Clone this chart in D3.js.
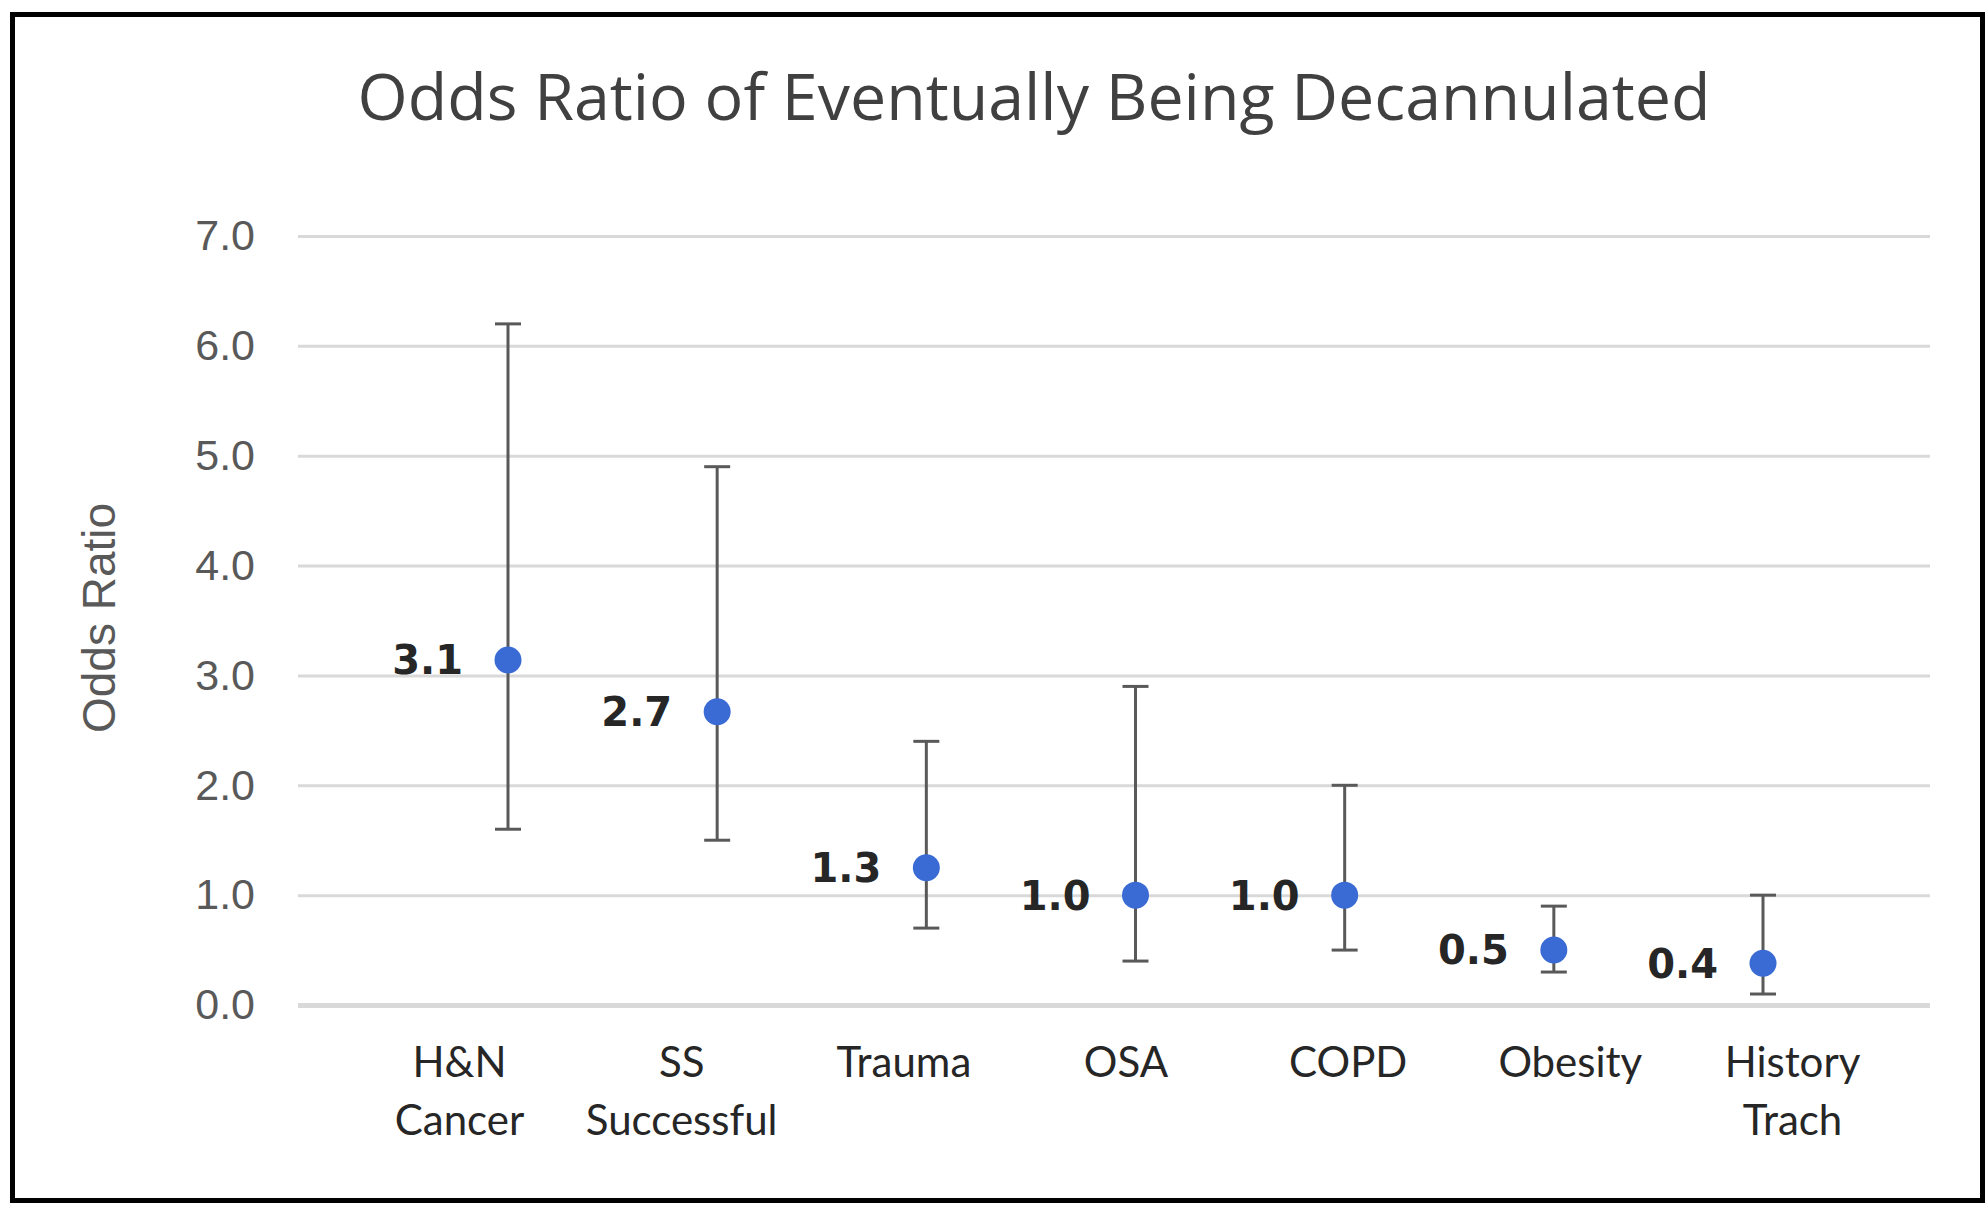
<!DOCTYPE html>
<html>
<head>
<meta charset="utf-8">
<script src="https://cdn.jsdelivr.net/npm/d3@7"></script>
<style>
  html, body { margin: 0; padding: 0; background: #fff; }
  svg { display: block; }
</style>
</head>
<body>
<div id="chart"></div>
<script>
// data
const categories = ["H&N\nCancer", "SS\nSuccessful", "Trauma", "OSA", "COPD", "Obesity", "History\nTrach"];
const oddsRatio = [3.14, 2.67, 1.25, 1.0, 1.0, 0.5, 0.38];
const ciLower = [1.6, 1.5, 0.7, 0.4, 0.5, 0.3, 0.1];
const ciUpper = [6.2, 4.9, 2.4, 2.9, 2.0, 0.9, 1.0];
const yTicks = [0, 1, 2, 3, 4, 5, 6, 7];

const W = 1988, H = 1217;
const plotLeft = 298, plotRight = 1930, plotTop = 236, plotBottom = 1005;

const svg = d3.select("#chart").append("svg")
    .attr("width", W)
    .attr("height", H);

svg.append("rect")
    .attr("width", W).attr("height", H)
    .attr("fill", "#fff");

// outer frame
svg.append("rect")
    .attr("x", 12.5).attr("y", 14.5)
    .attr("width", 1970).attr("height", 1186)
    .attr("fill", "none")
    .attr("stroke", "#000")
    .attr("stroke-width", 5);

let y = d3.scaleLinear().domain([0, 7]).range([plotBottom, plotTop]);
// labels and markers sit on slightly different spacings in the original
let xLabel = d3.scalePoint().domain(categories).range([459, 1792]);
let xMark = d3.scalePoint().domain(categories).range([508, 1763]);

// y axis + gridlines
let yAxis = svg.append("g")
    .attr("transform", `translate(${plotLeft},0)`)
    .call(d3.axisLeft(y)
        .tickValues(yTicks)
        .tickSize(-(plotRight - plotLeft))
        .tickPadding(43)
        .tickFormat(d3.format(".1f")));
yAxis.select(".domain").remove();
yAxis.selectAll(".tick line")
    .attr("stroke", "#d9d9d9")
    .attr("stroke-width", d => d === 0 ? 5 : 3);
yAxis.selectAll(".tick text")
    .attr("fill", "#595959")
    .style("font-family", "'Liberation Sans', Arial, sans-serif")
    .style("font-size", "43px");

// x axis labels
let xAxis = svg.append("g")
    .attr("transform", `translate(0,${plotBottom})`)
    .call(d3.axisBottom(xLabel).tickSize(0).tickFormat(""));
xAxis.select(".domain").remove();
xAxis.selectAll(".tick").append("text")
    .attr("fill", "#262626")
    .attr("text-anchor", "middle")
    .style("font-family", "Lato, sans-serif")
    .style("font-size", "42px")
    .each(function(d) {
        let lines = d.split("\n");
        let t = d3.select(this);
        lines.forEach((ln, i) => {
            t.append("tspan")
                .attr("x", 0)
                .attr("y", 72 + i * 58)
                .text(ln);
        });
    });

// error bars
let bars = svg.append("g").selectAll("g")
    .data(categories)
    .join("g")
    .attr("transform", d => `translate(${xMark(d)},0)`);

bars.append("line")
    .attr("y1", (d, i) => y(ciLower[i]))
    .attr("y2", (d, i) => y(ciUpper[i]))
    .attr("stroke", "#595959")
    .attr("stroke-width", 3);

bars.selectAll(".cap")
    .data((d, i) => [ciLower[i], ciUpper[i]])
    .join("line")
    .attr("class", "cap")
    .attr("x1", -13).attr("x2", 13)
    .attr("y1", v => y(v)).attr("y2", v => y(v))
    .attr("stroke", "#595959")
    .attr("stroke-width", 3);

// points
bars.append("circle")
    .attr("cy", (d, i) => y(oddsRatio[i]))
    .attr("r", 13.5)
    .attr("fill", "#3a6bd4");

// value labels
bars.append("text")
    .attr("x", -45)
    .attr("y", (d, i) => y(oddsRatio[i]))
    .attr("dy", "0.36em")
    .attr("text-anchor", "end")
    .attr("fill", "#262626")
    .style("font-family", "'DejaVu Sans', sans-serif")
    .style("font-weight", "bold")
    .style("font-size", "40px")
    .text((d, i) => oddsRatio[i].toFixed(1));

// titles
svg.append("text")
    .attr("x", 1034)
    .attr("y", 120)
    .attr("text-anchor", "middle")
    .attr("fill", "#404040")
    .style("font-family", "'Open Sans', sans-serif")
    .style("font-size", "64.5px")
    .text("Odds Ratio of Eventually Being Decannulated");

svg.append("text")
    .attr("transform", "translate(115,618) rotate(-90)")
    .attr("text-anchor", "middle")
    .attr("fill", "#595959")
    .style("font-family", "'Liberation Sans', Arial, sans-serif")
    .style("font-size", "46px")
    .text("Odds Ratio");
</script>
</body>
</html>
